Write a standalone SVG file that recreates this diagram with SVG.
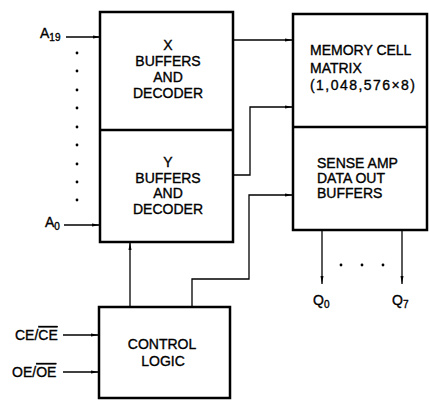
<svg xmlns="http://www.w3.org/2000/svg" width="429" height="400" viewBox="0 0 429 400">
<defs>
<marker id="arr" markerUnits="userSpaceOnUse" markerWidth="9" markerHeight="5" refX="8" refY="2.5" orient="auto">
<path d="M0,1 L8,2.5 L0,4 z" fill="#000"/>
</marker>
<style>
.box{fill:#fff;stroke:#000;stroke-width:2.5}
.div{stroke:#000;stroke-width:2.5;fill:none}
.w{fill:none;stroke:#000;stroke-width:1.3}
text{font-family:"Liberation Sans",Arial,sans-serif;font-size:14px;fill:#000;stroke:#000;stroke-width:0.35}
.c{text-anchor:middle}
.sub{font-size:10px}
.dot{fill:#000}
</style>
</defs>
<rect width="429" height="400" fill="#fff"/>

<g id="connectors">
<line class="w" x1="233" y1="40" x2="293" y2="40" marker-end="url(#arr)"/>
<polyline class="w" points="233,175 250,175 250,107 293,107" marker-end="url(#arr)"/>
<polyline class="w" points="192,307 192,279 249,279 249,195 293,195" marker-end="url(#arr)"/>
<line class="w" x1="130" y1="307" x2="130" y2="242" marker-end="url(#arr)"/>
<line class="w" x1="66" y1="37" x2="101" y2="37" marker-end="url(#arr)"/>
<line class="w" x1="64" y1="225" x2="100" y2="225" marker-end="url(#arr)"/>
<line class="w" x1="63" y1="335" x2="99" y2="335" marker-end="url(#arr)"/>
<line class="w" x1="63" y1="372" x2="99" y2="372" marker-end="url(#arr)"/>
<line class="w" x1="322" y1="230" x2="322" y2="284" marker-end="url(#arr)"/>
<line class="w" x1="402" y1="230" x2="402" y2="284" marker-end="url(#arr)"/>
</g>

<g id="xy-buffers">
<rect class="box" x="100" y="12" width="133" height="230"/>
<line class="div" x1="100" y1="130" x2="233" y2="130"/>
</g>
<g id="x-buffers">
<text class="c" x="168" y="50">X</text>
<text class="c" x="168" y="66">BUFFERS</text>
<text class="c" x="168" y="82">AND</text>
<text class="c" x="168" y="98">DECODER</text>
</g>
<g id="y-buffers">
<text class="c" x="168" y="167">Y</text>
<text class="c" x="168" y="183">BUFFERS</text>
<text class="c" x="168" y="198">AND</text>
<text class="c" x="168" y="214">DECODER</text>
</g>

<g id="memory-sense">
<rect class="box" x="293" y="14" width="134" height="216"/>
<line class="div" x1="293" y1="127" x2="427" y2="127"/>
</g>
<g id="memory-cell-matrix">
<text x="310" y="55">MEMORY CELL</text>
<text x="310" y="73">MATRIX</text>
<text x="310" y="90" textLength="105" lengthAdjust="spacing">(1,048,576×8)</text>
</g>
<g id="sense-amp">
<text x="317" y="168">SENSE AMP</text>
<text x="317" y="183">DATA OUT</text>
<text x="317" y="198">BUFFERS</text>
</g>

<g id="control-logic">
<rect class="box" x="99" y="307" width="131" height="91"/>
<text class="c" x="162" y="349">CONTROL</text>
<text class="c" x="163" y="366">LOGIC</text>
</g>

<g id="address-inputs">
<text x="40" y="38">A<tspan class="sub" dy="3">19</tspan></text>
<text x="45" y="227">A<tspan class="sub" dy="3">0</tspan></text>
<circle class="dot" cx="77" cy="53" r="1.4"/>
<circle class="dot" cx="77" cy="71" r="1.4"/>
<circle class="dot" cx="77" cy="90" r="1.4"/>
<circle class="dot" cx="77" cy="108" r="1.4"/>
<circle class="dot" cx="77" cy="127" r="1.4"/>
<circle class="dot" cx="77" cy="145" r="1.4"/>
<circle class="dot" cx="77" cy="164" r="1.4"/>
<circle class="dot" cx="77" cy="182" r="1.4"/>
<circle class="dot" cx="77" cy="200" r="1.4"/>
</g>

<g id="control-inputs">
<text x="15" y="340">CE/<tspan text-decoration="overline">CE</tspan></text>
<text x="12" y="377">OE/<tspan text-decoration="overline">OE</tspan></text>
</g>

<g id="outputs">
<text x="313" y="305">Q<tspan class="sub" dy="3">0</tspan></text>
<text x="392" y="305">Q<tspan class="sub" dy="3">7</tspan></text>
<circle class="dot" cx="341" cy="265" r="1.4"/>
<circle class="dot" cx="362" cy="265" r="1.4"/>
<circle class="dot" cx="383" cy="265" r="1.4"/>
</g>
</svg>
